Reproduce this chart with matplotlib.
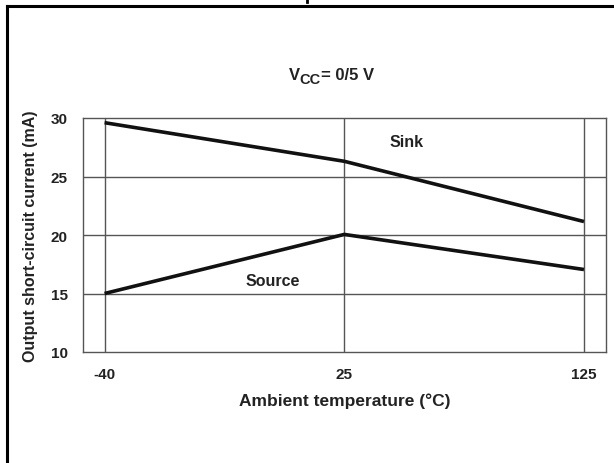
import numpy as np
import matplotlib
matplotlib.use("Agg")
import matplotlib.pyplot as plt
from matplotlib.lines import Line2D

plt.rcParams['font.family'] = ['Liberation Sans', 'DejaVu Sans']
plt.rcParams['font.weight'] = 'bold'

# data
temps = ["-40", "25", "125"]
sink = [29.6, 26.3, 21.15]
source = [15.0, 20.05, 17.05]
yticks = [10, 15, 20, 25, 30]

W, H = 614, 464
fig = plt.figure(figsize=(W / 100, H / 100), dpi=100)

# axes box in pixels: left 83, right 606, top 119, bottom 353
ax = fig.add_axes([83 / W, 1 - 353 / H, (606 - 83) / W, (353 - 119) / H])

x = np.arange(len(temps))
ax.set_xlim(-0.09, 2.092)
ax.set_ylim(10, 30)

gc = "#555555"
for yv in [15, 20, 25]:
    ax.axhline(yv, color=gc, lw=1.0, zorder=1)
for xv in x:
    ax.axvline(xv, color=gc, lw=1.0, zorder=1)

ax.plot(x, sink, color="#111111", lw=2.6, zorder=3, solid_capstyle="butt")
ax.plot(x, source, color="#111111", lw=2.6, zorder=3, solid_capstyle="butt")

for s in ax.spines.values():
    s.set_color(gc)
    s.set_linewidth(1.0)

ax.set_xticks(x)
ax.set_xticklabels(temps)
ax.set_yticks(yticks)
ax.tick_params(length=0, labelsize=11, colors="#222222")
ax.tick_params(axis="y", pad=11)
ax.tick_params(axis="x", pad=11)

ax.set_xlabel("Ambient temperature (°C)", fontsize=12.5, fontweight="bold",
              color="#222222", labelpad=8)
ax.set_ylabel("Output short-circuit current (mA)", fontsize=11.5,
              fontweight="bold", color="#222222", labelpad=9)

ax.text(1.26, 27.95, "Sink", fontsize=11.5, fontweight="bold", color="#222222",
        ha="center", va="center")
ax.text(0.70, 16.15, "Source", fontsize=11.5, fontweight="bold", color="#222222",
        ha="center", va="center")

# V_CC = 0/5 V, built from pieces so the subscript stays large
tc = "#222222"
fig.text(289 / W, 1 - 76 / H, "V", fontsize=12, color=tc, ha="left", va="center")
fig.text(299 / W, 1 - 80 / H, "CC", fontsize=10.5, color=tc, ha="left", va="center")
fig.text(321 / W, 1 - 76 / H, "= 0/5 V", fontsize=12, color=tc, ha="left", va="center")

# outer frame (left and top edges visible)
fig.add_artist(Line2D([7 / W, 7 / W], [0, 1 - 7 / H], transform=fig.transFigure,
                      color="black", lw=2.2))
fig.add_artist(Line2D([7 / W, 1], [1 - 7 / H, 1 - 7 / H], transform=fig.transFigure,
                      color="black", lw=2.2))
fig.add_artist(Line2D([307 / W, 307 / W], [1, 1 - 3 / H], transform=fig.transFigure,
                      color="black", lw=2.0))

fig.savefig("out.png", dpi=100)
